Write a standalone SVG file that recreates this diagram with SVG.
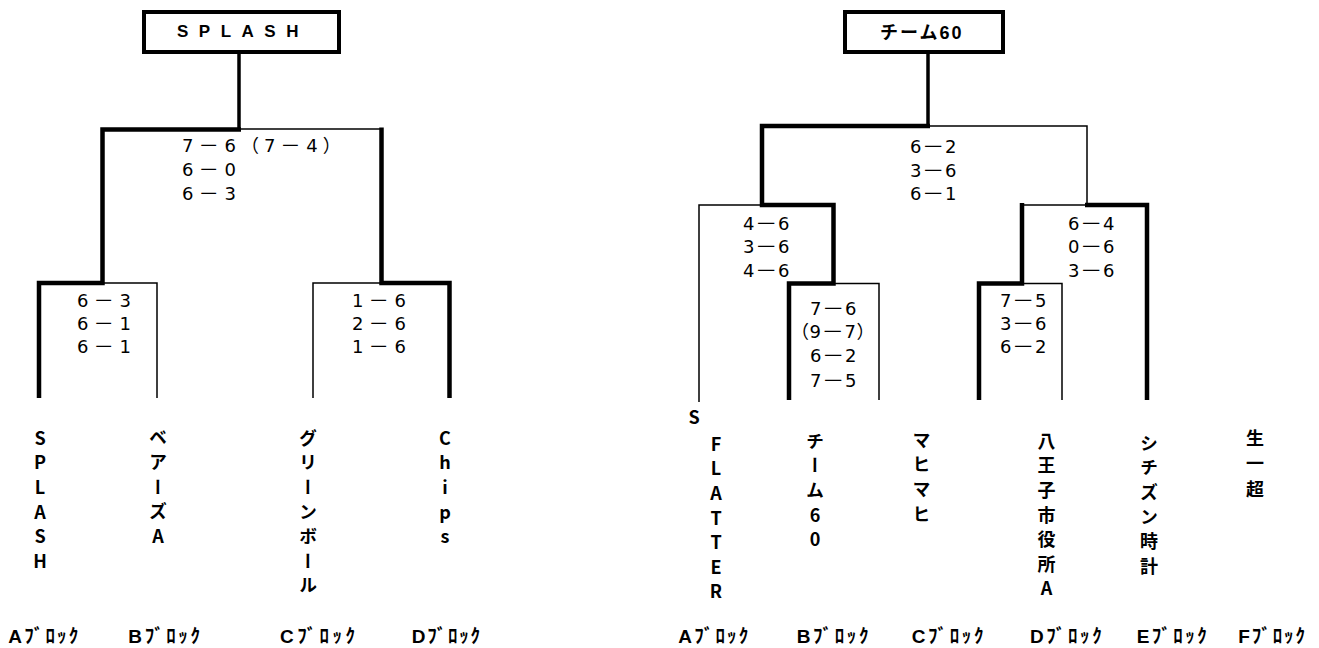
<svg xmlns="http://www.w3.org/2000/svg" width="1319" height="648" viewBox="0 0 1319 648">
<style>
.bg{fill:#fff}
.box{fill:#fff;stroke:#000;stroke-width:4}
.title{font-family:"Liberation Sans","Noto Sans CJK JP",sans-serif;font-weight:bold;font-size:17px;fill:#000}
.thick{fill:none;stroke:#000;stroke-width:4.5;stroke-linejoin:miter;stroke-linecap:butt}
.thin{fill:none;stroke:#000;stroke-width:1.5;stroke-linecap:butt}
.stem{fill:none;stroke:#000;stroke-width:3.5}
.scL{font-family:"DejaVu Sans","Noto Sans CJK JP",sans-serif;font-size:18px;letter-spacing:5px;fill:#000}
.scR{font-family:"DejaVu Sans","Noto Sans CJK JP",sans-serif;font-size:18px;letter-spacing:0.5px;fill:#000}
.vt{font-family:"Noto Sans CJK JP",sans-serif;font-size:18px;font-weight:bold;writing-mode:vertical-rl;text-orientation:upright;letter-spacing:6.6px;fill:#000}
.blk{font-family:"Liberation Sans","Noto Sans CJK JP",sans-serif;font-size:19px;font-weight:bold;fill:#000}
</style>
<rect class="bg" x="0" y="0" width="1319" height="648"/>

<g id="connectors">
  <path class="stem" d="M239,53 V129"/>
  <path class="thick" d="M39,398 V283 H102.5 V129.5 H241"/>
  <path class="thin" d="M239,129 H383"/>
  <path class="thin" d="M157,398 V283 H102.5"/>
  <path class="thick" d="M449.5,398 V283 H381.5 V127.5"/>
  <path class="thin" d="M313,398 V283 H381.5"/>
  <path class="stem" d="M928,54 V126"/>
  <path class="thick" d="M789,400 V283.5 H833.5 V205 H762 V126 H930"/>
  <path class="thin" d="M879,400 V283.5 H833.5"/>
  <path class="thin" d="M699,402 V205 H762"/>
  <path class="thick" d="M979,400 V283.5 H1022 V203"/>
  <path class="thin" d="M1022,205 H1087"/>
  <path class="thin" d="M1062,400 V283.5 H1022"/>
  <path class="thick" d="M1147,400 V205 H1085"/>
  <path class="thin" d="M1087,205 V126 H928"/>
</g>

<g id="winner-left">
  <rect class="box" x="144" y="12" width="195" height="40"/>
  <text class="title" x="177" y="37" style="letter-spacing:10.5px">SPLASH</text>
</g>
<g id="winner-right">
  <rect class="box" x="845" y="12" width="158" height="40"/>
  <text class="title" x="880" y="39" style="font-size:18px;letter-spacing:2px">チーム60</text>
</g>

<g id="scores-left">
  <text class="scL" x="182" y="152">7<tspan textLength="26" lengthAdjust="spacingAndGlyphs">－</tspan>6（7<tspan textLength="26" lengthAdjust="spacingAndGlyphs">－</tspan>4）</text>
  <text class="scL" x="182" y="176">6<tspan textLength="26" lengthAdjust="spacingAndGlyphs">－</tspan>0</text>
  <text class="scL" x="182" y="200">6<tspan textLength="26" lengthAdjust="spacingAndGlyphs">－</tspan>3</text>
  <text class="scL" x="77" y="307">6<tspan textLength="26" lengthAdjust="spacingAndGlyphs">－</tspan>3</text>
  <text class="scL" x="77" y="330">6<tspan textLength="26" lengthAdjust="spacingAndGlyphs">－</tspan>1</text>
  <text class="scL" x="77" y="353">6<tspan textLength="26" lengthAdjust="spacingAndGlyphs">－</tspan>1</text>
  <text class="scL" x="352" y="307">1<tspan textLength="26" lengthAdjust="spacingAndGlyphs">－</tspan>6</text>
  <text class="scL" x="352" y="330">2<tspan textLength="26" lengthAdjust="spacingAndGlyphs">－</tspan>6</text>
  <text class="scL" x="352" y="353">1<tspan textLength="26" lengthAdjust="spacingAndGlyphs">－</tspan>6</text>
</g>

<g id="scores-right">
  <text class="scR" x="910" y="153">6<tspan textLength="23" lengthAdjust="spacingAndGlyphs">－</tspan>2</text>
  <text class="scR" x="910" y="177">3<tspan textLength="23" lengthAdjust="spacingAndGlyphs">－</tspan>6</text>
  <text class="scR" x="910" y="200">6<tspan textLength="23" lengthAdjust="spacingAndGlyphs">－</tspan>1</text>
  <text class="scR" x="743" y="230">4<tspan textLength="23" lengthAdjust="spacingAndGlyphs">－</tspan>6</text>
  <text class="scR" x="743" y="253">3<tspan textLength="23" lengthAdjust="spacingAndGlyphs">－</tspan>6</text>
  <text class="scR" x="743" y="277">4<tspan textLength="23" lengthAdjust="spacingAndGlyphs">－</tspan>6</text>
  <text class="scR" x="810" y="315">7<tspan textLength="23" lengthAdjust="spacingAndGlyphs">－</tspan>6</text>
  <text class="scR" x="791" y="338">（9<tspan textLength="23" lengthAdjust="spacingAndGlyphs">－</tspan>7）</text>
  <text class="scR" x="810" y="362">6<tspan textLength="23" lengthAdjust="spacingAndGlyphs">－</tspan>2</text>
  <text class="scR" x="810" y="387">7<tspan textLength="23" lengthAdjust="spacingAndGlyphs">－</tspan>5</text>
  <text class="scR" x="1068" y="230">6<tspan textLength="23" lengthAdjust="spacingAndGlyphs">－</tspan>4</text>
  <text class="scR" x="1068" y="253">0<tspan textLength="23" lengthAdjust="spacingAndGlyphs">－</tspan>6</text>
  <text class="scR" x="1068" y="277">3<tspan textLength="23" lengthAdjust="spacingAndGlyphs">－</tspan>6</text>
  <text class="scR" x="1000" y="307">7<tspan textLength="23" lengthAdjust="spacingAndGlyphs">－</tspan>5</text>
  <text class="scR" x="1000" y="330">3<tspan textLength="23" lengthAdjust="spacingAndGlyphs">－</tspan>6</text>
  <text class="scR" x="1000" y="353">6<tspan textLength="23" lengthAdjust="spacingAndGlyphs">－</tspan>2</text>
</g>

<g id="team-L-A"><text class="vt" x="40" y="429">SPLASH</text></g>
<g id="team-L-B"><text class="vt" x="158" y="428.5">ベアーズA</text></g>
<g id="team-L-C"><text class="vt" x="308" y="429">グリーンボール</text></g>
<g id="team-L-D"><text class="vt" x="445" y="429">Chips</text></g>

<g id="team-R-A"><text class="vt"><tspan x="694" y="408.5">S</tspan><tspan x="716" y="434.5">FLATTER</tspan></text></g>
<g id="team-R-B"><text class="vt" x="815" y="432">チーム60</text></g>
<g id="team-R-C"><text class="vt" x="921.5" y="431">マヒマヒ</text></g>
<g id="team-R-D"><text class="vt" x="1046.5" y="432">八王子市役所A</text></g>
<g id="team-R-E"><text class="vt" x="1149" y="434">シチズン時計</text></g>
<g id="team-R-F"><text class="vt" x="1255" y="429" style="letter-spacing:7.5px">生一超</text></g>

<g id="blocks">
  <text class="blk" x="8.3" y="643" textLength="70" lengthAdjust="spacing">Aﾌﾞﾛｯｸ</text>
  <text class="blk" x="128.3" y="643" textLength="71.7" lengthAdjust="spacing">Bﾌﾞﾛｯｸ</text>
  <text class="blk" x="280" y="643" textLength="75" lengthAdjust="spacing">Cﾌﾞﾛｯｸ</text>
  <text class="blk" x="411.7" y="643" textLength="68.3" lengthAdjust="spacing">Dﾌﾞﾛｯｸ</text>
  <text class="blk" x="678.3" y="643" textLength="70" lengthAdjust="spacing">Aﾌﾞﾛｯｸ</text>
  <text class="blk" x="796.7" y="643" textLength="71.7" lengthAdjust="spacing">Bﾌﾞﾛｯｸ</text>
  <text class="blk" x="911.7" y="643" textLength="71.7" lengthAdjust="spacing">Cﾌﾞﾛｯｸ</text>
  <text class="blk" x="1030" y="643" textLength="71.7" lengthAdjust="spacing">Dﾌﾞﾛｯｸ</text>
  <text class="blk" x="1136.7" y="643" textLength="70" lengthAdjust="spacing">Eﾌﾞﾛｯｸ</text>
  <text class="blk" x="1238.3" y="643" textLength="66.7" lengthAdjust="spacing">Fﾌﾞﾛｯｸ</text>
</g>
</svg>
